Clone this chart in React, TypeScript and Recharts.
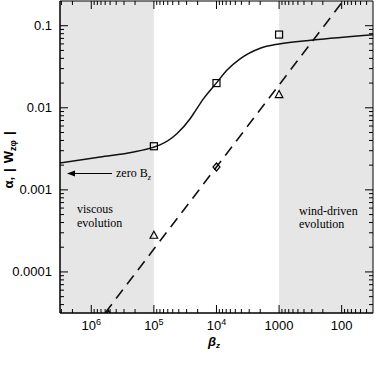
import React from 'react'
import {
  ComposedChart,
  Line,
  Scatter,
  XAxis,
  YAxis,
  ReferenceArea,
  ReferenceLine,
} from 'recharts'

// beta_z axis (reversed log), alpha axis (log)
const X_DOMAIN: [number, number] = [31.6, 3.16e6]
const Y_DOMAIN: [number, number] = [3.16e-5, 0.2]

const X_MAJOR = [1e6, 1e5, 1e4, 1e3, 100]
const X_LABELS = [['10', '6'], ['10', '5'], ['10', '4'], ['1000', ''], ['100', '']]
const Y_MAJOR = [0.1, 0.01, 0.001, 0.0001]
const Y_LABELS = ['0.1', '0.01', '0.001', '0.0001']
const MULT = [2, 3, 4, 5, 6, 7, 8, 9]

// shaded regimes
const VISCOUS_LIMIT = 1e5
const WIND_LIMIT = 1e3

// solid curve: alpha vs beta_z
const curveBeta = [3.2e6, 7.2e5, 2.1e5, 1e5, 8e4, 4.3e4, 2.64e4, 2.33e4, 1.62e4, 1e4, 6.9e3, 4.2e3, 2e3, 1e3, 290, 31]
const curveAlpha = [0.00212, 0.00251, 0.00289, 0.00332, 0.00353, 0.00483, 0.00734, 0.00845, 0.01285, 0.0201, 0.0284, 0.0394, 0.0531, 0.06, 0.067, 0.0778]

// dashed line: |W_z phi|
const dashBeta = [2e6, 1e6, 1e5, 1e4, 1e3, 100, 50]
const dashAlpha = [9.5e-6, 1.9e-5, 1.9e-4, 1.9e-3, 0.019, 0.19, 0.38]

// simulation points
const squareBeta = [1e5, 1e4, 1e3]
const squareAlpha = [0.0034, 0.02, 0.078]
const triBeta = [5.3e5, 1e5, 1e3]
const triAlpha = [3.05e-5, 0.00028, 0.0145]
const diamondBeta = [1e4]
const diamondAlpha = [0.0019]

const zip = (bs: number[], as: number[]) => bs.map((b, i) => ({ b, a: as[i] }))

const decadeMinors = (majors: number[], lo: number, hi: number) => {
  const out: number[] = []
  const all = [...majors, majors[majors.length - 1] / 10, majors[0] * 10]
  all.forEach(m => MULT.forEach(k => {
    const v = m * k
    if (v > lo && v < hi && !out.includes(v)) out.push(v)
  }))
  return out
}

const X_MINOR = decadeMinors(X_MAJOR, X_DOMAIN[0], X_DOMAIN[1])
const Y_MINOR = decadeMinors(Y_MAJOR, Y_DOMAIN[0], Y_DOMAIN[1])

const W = 374
const H = 374
const MARGIN = { top: 1, right: 1, bottom: 0, left: 0 }

const SANS = '"Liberation Sans", Arial, sans-serif'
const SERIF = '"Liberation Serif", "Times New Roman", serif'

// inward tick stubs at both ends of a full-height / full-width reference line
const xStub = (len: number) => (p: any) => {
  const top = Math.min(p.y1, p.y2)
  const bot = Math.max(p.y1, p.y2)
  return (
    <path d={`M${p.x1},${bot}V${bot - len}M${p.x1},${top}V${top + len}`} stroke="#000" strokeWidth={1} fill="none" />
  )
}
const yStub = (len: number) => (p: any) => {
  const left = Math.min(p.x1, p.x2)
  const right = Math.max(p.x1, p.x2)
  return (
    <path d={`M${left},${p.y1}H${left + len}M${right},${p.y1}H${right - len}`} stroke="#000" strokeWidth={1} fill="none" />
  )
}

const BottomLabel = (props: any) => {
  const { x, y, payload } = props
  const i = X_MAJOR.indexOf(payload.value)
  if (i < 0) return <g />
  return (
    <text x={x} y={y + 17} textAnchor="middle" fontSize={13} fontFamily={SANS} fill="#000" stroke="none">
      {X_LABELS[i][0]}
      {X_LABELS[i][1] && <tspan fontSize={9} dy={-5}>{X_LABELS[i][1]}</tspan>}
    </text>
  )
}

const LeftLabel = (props: any) => {
  const { x, y, payload } = props
  const i = Y_MAJOR.indexOf(payload.value)
  if (i < 0) return <g />
  return (
    <text x={x - 8} y={y + 4.5} textAnchor="end" fontSize={13} fontFamily={SANS} fill="#000" stroke="none">
      {Y_LABELS[i]}
    </text>
  )
}

const SquareMark = (p: any) => (
  <rect x={p.cx - 3.5} y={p.cy - 3.5} width={7} height={7} fill="none" stroke="#000" strokeWidth={1.2} />
)
const TriMark = (p: any) => (
  <polygon
    points={`${p.cx},${p.cy - 4} ${p.cx - 3.8},${p.cy + 3} ${p.cx + 3.8},${p.cy + 3}`}
    fill="none"
    stroke="#000"
    strokeWidth={1.2}
  />
)
const DiamondMark = (p: any) => (
  <polygon
    points={`${p.cx},${p.cy - 4} ${p.cx + 3.5},${p.cy} ${p.cx},${p.cy + 4} ${p.cx - 3.5},${p.cy}`}
    fill="none"
    stroke="#000"
    strokeWidth={1.2}
  />
)

export default function App() {
  const axisLine = { stroke: '#000', strokeWidth: 1 }
  return (
    <div style={{ position: 'absolute', left: 0, top: 0, width: W, height: H, background: '#fff' }}>
      <ComposedChart width={W} height={H} margin={MARGIN}>
        <ReferenceArea x1={X_DOMAIN[1]} x2={VISCOUS_LIMIT} fill="#e6e6e6" fillOpacity={1} stroke="none" ifOverflow="visible" />
        <ReferenceArea x1={WIND_LIMIT} x2={X_DOMAIN[0]} fill="#e6e6e6" fillOpacity={1} stroke="none" ifOverflow="visible" />
        {X_MAJOR.map(v => <ReferenceLine key={`xM${v}`} x={v} shape={xStub(8)} />)}
        {X_MINOR.map(v => <ReferenceLine key={`xm${v}`} x={v} shape={xStub(4)} />)}
        {Y_MAJOR.map(v => <ReferenceLine key={`yM${v}`} y={v} shape={yStub(8)} />)}
        {Y_MINOR.map(v => <ReferenceLine key={`ym${v}`} y={v} shape={yStub(4)} />)}
        <Line
          data={zip(curveBeta, curveAlpha)}
          dataKey="a"
          type="monotone"
          stroke="#111"
          strokeWidth={1.5}
          dot={false}
          isAnimationActive={false}
        />
        <Line
          data={zip(dashBeta, dashAlpha)}
          dataKey="a"
          type="linear"
          stroke="#111"
          strokeWidth={1.6}
          strokeDasharray="11 7"
          dot={false}
          isAnimationActive={false}
        />
        <Scatter data={zip(squareBeta, squareAlpha)} dataKey="a" shape={SquareMark} isAnimationActive={false} />
        <Scatter data={zip(triBeta, triAlpha)} dataKey="a" shape={TriMark} isAnimationActive={false} />
        <Scatter data={zip(diamondBeta, diamondAlpha)} dataKey="a" shape={DiamondMark} isAnimationActive={false} />
        <ReferenceArea
          x1={X_DOMAIN[0]}
          x2={X_DOMAIN[1]}
          y1={Y_DOMAIN[0]}
          y2={Y_DOMAIN[1]}
          fill="none"
          stroke="#000"
          strokeWidth={1}
          ifOverflow="visible"
        />
        <XAxis
          dataKey="b"
          type="number"
          scale="log"
          domain={X_DOMAIN}
          allowDataOverflow
          reversed
          ticks={X_MAJOR}
          interval={0}
          height={61}
          tickSize={0}
          tickMargin={0}
          tickLine={false}
          axisLine={axisLine}
          tick={BottomLabel}
        />
        <YAxis
          dataKey="a"
          type="number"
          scale="log"
          domain={Y_DOMAIN}
          allowDataOverflow
          ticks={Y_MAJOR}
          interval={0}
          width={60}
          tickSize={0}
          tickMargin={0}
          tickLine={false}
          axisLine={axisLine}
          tick={LeftLabel}
        />
      </ComposedChart>
      <svg width={W} height={H} style={{ position: 'absolute', left: 0, top: 0, pointerEvents: 'none' }}>
        <line x1={112} x2={72} y1={173.5} y2={173.5} stroke="#000" strokeWidth={1.2} />
        <polygon points="67,173.5 75,170.5 75,176.5" fill="#000" />
        <text x={116} y={177} fontSize={12} fontFamily={SERIF} fill="#000">
          zero B<tspan fontSize={8} dy={3} fontStyle="italic">z</tspan>
        </text>
        <text x={77} y={213} fontSize={12} fontFamily={SERIF} fill="#000">viscous</text>
        <text x={77} y={227} fontSize={12} fontFamily={SERIF} fill="#000">evolution</text>
        <text x={299} y={215} fontSize={12} fontFamily={SERIF} fill="#000">wind-driven</text>
        <text x={299} y={228} fontSize={12} fontFamily={SERIF} fill="#000">evolution</text>
        <text x={214} y={346} textAnchor="middle" fontSize={13} fontWeight="bold" fontStyle="italic" fontFamily={SANS} fill="#000">
          β<tspan fontSize={8} dy={2}>z</tspan>
        </text>
        <text
          x={13}
          y={160}
          transform="rotate(-90 13 160)"
          textAnchor="middle"
          fontSize={13}
          fontWeight="bold"
          fontFamily={SANS}
          fill="#000"
        >
          α,<tspan dx={5}>|</tspan>
          <tspan dx={5}>W</tspan>
          <tspan fontSize={9} dy={3}>zφ</tspan>
          <tspan dx={5} dy={-3}>|</tspan>
        </text>
      </svg>
    </div>
  )
}
